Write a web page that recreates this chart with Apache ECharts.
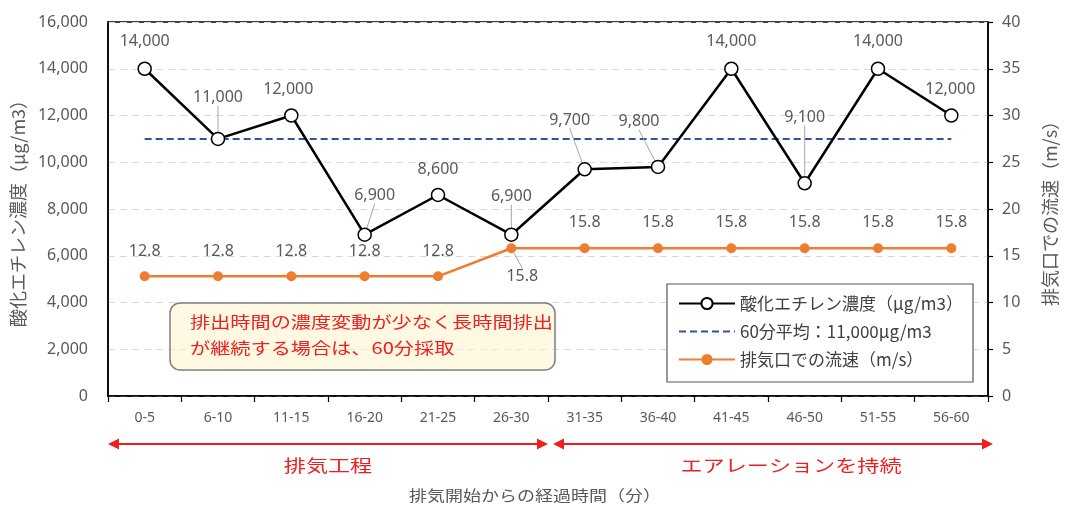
<!DOCTYPE html>
<html>
<head>
<meta charset="utf-8">
<script src="https://cdn.jsdelivr.net/npm/echarts@6/dist/echarts.min.js"></script>
<style>
html,body{margin:0;padding:0;background:#ffffff;}
#c{width:1067px;height:509px;}
</style>
</head>
<body>
<div id="c"></div>
<script>
// ---------- data ----------
const categories = ['0-5','6-10','11-15','16-20','21-25','26-30','31-35','36-40','41-45','46-50','51-55','56-60'];
const concentration = [14000, 11000, 12000, 6900, 8600, 6900, 9700, 9800, 14000, 9100, 14000, 12000];
const average60 = [11000, 11000, 11000, 11000, 11000, 11000, 11000, 11000, 11000, 11000, 11000, 11000];
const velocity = [12.8, 12.8, 12.8, 12.8, 12.8, 15.8, 15.8, 15.8, 15.8, 15.8, 15.8, 15.8];
const leftAxis = {min: 0, max: 16000, interval: 2000};
const rightAxis = {min: 0, max: 40, interval: 5};

const nameConc = '酸化エチレン濃度（μg/m3）';
const nameAvg = '60分平均：11,000μg/m3';
const nameVel = '排気口での流速（m/s）';
const noteLines = ['排出時間の濃度変動が少なく長時間排出', 'が継続する場合は、60分採取'];
const phase1 = '排気工程';
const phase2 = 'エアレーションを持続';
const xTitle = '排気開始からの経過時間（分）';

// ---------- label placement (relative to the point) ----------
const concLabelOffset = [[0,-27],[0,-41],[-3,-26],[10,-39],[0,-26],[0,-38],[-15,-49],[-19,-45],[0,-27],[0,-66],[0,-27],[-1,-26]];
const concLeader = [false,true,false,true,false,true,true,true,false,true,false,false];
const velLabelOffset = [[0,-25],[0,-25],[0,-25],[0,-25],[0,-25],[11,28],[0,-26],[0,-26],[0,-26],[0,-26],[0,-26],[0,-26]];
const velLeader = [false,false,false,false,false,true,false,false,false,false,false,false];

const JP = '"Noto Sans CJK JP", sans-serif';
const NUM = '"Noto Sans", sans-serif';
const GRAY = '#595959';
const RED = '#F01E1E';

const G = {left: 108, right: 79, top: 22, bottom: 113};
const W = 1067, H = 509;
const gx0 = G.left, gx1 = W - G.right;

function layoutFrom(offsets) {
  return function (p) {
    const o = offsets[p.dataIndex];
    const cx = p.rect.x + p.rect.width / 2;
    const cy = p.rect.y + p.rect.height / 2;
    return {x: cx + o[0], y: cy + o[1], align: 'center', verticalAlign: 'middle'};
  };
}
const fmt = v => Number(v).toLocaleString('en-US');

const chart = echarts.init(document.getElementById('c'));

function arrow(x0, x1, y) {
  const hl = 11, hw = 5.5;
  return [
    {type: 'line', shape: {x1: x0 + hl - 1, y1: y, x2: x1 - hl + 1, y2: y}, style: {stroke: RED, lineWidth: 2.2}, z: 5},
    {type: 'polygon', shape: {points: [[x0, y], [x0 + hl, y - hw], [x0 + hl, y + hw]]}, style: {fill: RED}, z: 5},
    {type: 'polygon', shape: {points: [[x1, y], [x1 - hl, y - hw], [x1 - hl, y + hw]]}, style: {fill: RED}, z: 5}
  ];
}

const boundary = gx0 + (gx1 - gx0) * 6 / categories.length;

const graphics = [
  // note box
  {type: 'rect', shape: {x: 170, y: 303, width: 385, height: 67, r: 10},
   style: {fill: 'rgba(255,242,204,0.55)', stroke: '#7F7F7F', lineWidth: 1.5}, z: 1},
  {type: 'text', x: 190, y: 322, scaleX: 1.26, z: 6,
   style: {text: noteLines[0], fill: RED, font: '16px ' + JP, textAlign: 'left', textVerticalAlign: 'middle'}},
  {type: 'text', x: 190, y: 348, scaleX: 1.26, z: 6,
   style: {text: noteLines[1], fill: RED, font: '16px ' + JP, textAlign: 'left', textVerticalAlign: 'middle'}},
  // legend box
  {type: 'rect', shape: {x: 667, y: 284, width: 306, height: 98},
   style: {fill: '#ffffff', stroke: '#595959', lineWidth: 1.2}, z: 3},
  // phase arrows
  ...arrow(gx0, boundary, 444),
  ...arrow(boundary + 5, gx1 + 5, 444),
  {type: 'text', x: (gx0 + boundary) / 2, y: 466, scaleX: 1.3, z: 6,
   style: {text: phase1, fill: RED, font: '17px ' + JP, textAlign: 'center', textVerticalAlign: 'middle'}},
  {type: 'text', x: 791, y: 466, scaleX: 1.3, z: 6,
   style: {text: phase2, fill: RED, font: '17px ' + JP, textAlign: 'center', textVerticalAlign: 'middle'}},
  {type: 'text', x: 535, y: 495, scaleX: 1.2, z: 6,
   style: {text: xTitle, fill: GRAY, font: '15px ' + JP, textAlign: 'center', textVerticalAlign: 'middle'}}
];

const option = {
  animation: false,
  backgroundColor: '#ffffff',
  grid: {left: G.left, right: G.right, top: G.top, bottom: G.bottom, show: true, borderColor: '#000', borderWidth: 1.5, containLabel: false},
  legend: {
    data: [nameConc, {name: nameAvg, itemStyle: {opacity: 0}}, nameVel],
    orient: 'vertical', left: 673, top: 290,
    itemWidth: 56, itemHeight: 14, itemGap: 11,
    selectedMode: false, z: 5,
    textStyle: {fontSize: 17, color: '#404040', fontFamily: JP}
  },
  xAxis: {
    type: 'category', data: categories, boundaryGap: true,
    axisLine: {show: true, lineStyle: {color: '#000', width: 1.5}},
    axisTick: {show: true, length: 6, lineStyle: {color: '#000', width: 1.2}},
    axisLabel: {margin: 15, fontSize: 14, color: GRAY, fontFamily: NUM},
    splitLine: {show: false}
  },
  yAxis: [
    {
      type: 'value', min: leftAxis.min, max: leftAxis.max, interval: leftAxis.interval, position: 'left',
      name: nameConc, nameLocation: 'middle', nameRotate: 90, nameGap: 78,
      nameTextStyle: {fontSize: 18, color: GRAY, fontFamily: JP},
      axisLine: {show: true, lineStyle: {color: '#000', width: 1.5}},
      axisTick: {show: false},
      axisLabel: {margin: 20, fontSize: 16, color: GRAY, fontFamily: NUM, formatter: fmt},
      splitLine: {show: true, lineStyle: {color: '#D9D9D9', width: 1.2, type: [7, 5]}}
    },
    {
      type: 'value', min: rightAxis.min, max: rightAxis.max, interval: rightAxis.interval, position: 'right',
      name: nameVel, nameLocation: 'middle', nameRotate: 90, nameGap: 53,
      nameTextStyle: {fontSize: 18, color: GRAY, fontFamily: JP},
      axisLine: {show: true, lineStyle: {color: '#000', width: 1.5}},
      axisTick: {show: true, length: 5, lineStyle: {color: '#000', width: 1.2}},
      axisLabel: {margin: 14, fontSize: 16, color: GRAY, fontFamily: NUM},
      splitLine: {show: false}
    }
  ],
  series: [
    {
      name: nameAvg, type: 'line', yAxisIndex: 0, data: average60,
      symbol: 'none', silent: true, z: 2,
      lineStyle: {color: '#2F5597', width: 2, type: [7, 4]},
      itemStyle: {color: '#2F5597'}
    },
    {
      name: nameConc, type: 'line', yAxisIndex: 0, z: 4,
      data: concentration.map((v, i) => ({value: v, labelLine: {show: concLeader[i]}})),
      symbol: 'circle', symbolSize: 13,
      lineStyle: {color: '#000', width: 2.5},
      itemStyle: {color: '#ffffff', borderColor: '#000', borderWidth: 1.5},
      label: {show: true, position: 'top', fontSize: 16, color: GRAY, fontFamily: NUM, formatter: p => fmt(p.value)},
      labelLine: {show: false, lineStyle: {color: '#A6A6A6', width: 1}},
      labelLayout: layoutFrom(concLabelOffset)
    },
    {
      name: nameVel, type: 'line', yAxisIndex: 1, z: 3,
      data: velocity.map((v, i) => ({value: v, labelLine: {show: velLeader[i]}})),
      symbol: 'circle', symbolSize: 10,
      lineStyle: {color: '#ED7D31', width: 2.5},
      itemStyle: {color: '#ED7D31'},
      label: {show: true, position: 'top', fontSize: 16, color: GRAY, fontFamily: NUM, formatter: p => String(p.value)},
      labelLine: {show: false, lineStyle: {color: '#A6A6A6', width: 1}},
      labelLayout: layoutFrom(velLabelOffset)
    }
  ],
  graphic: graphics
};
chart.setOption(option);
</script>
</body>
</html>
